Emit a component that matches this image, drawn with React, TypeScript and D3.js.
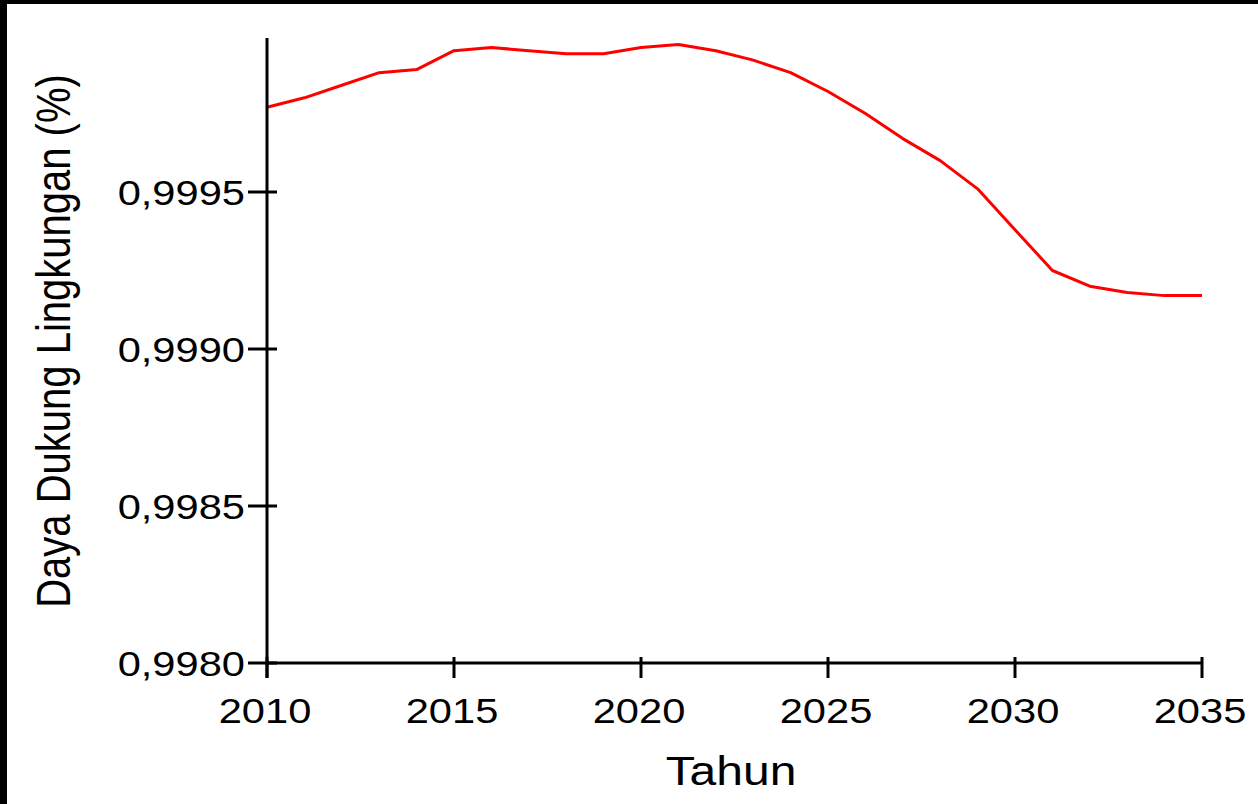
import React from "react";
import * as d3 from "d3";

const years = [2010, 2011, 2012, 2013, 2014, 2015, 2016, 2017, 2018, 2019, 2020, 2021, 2022, 2023, 2024, 2025, 2026, 2027, 2028, 2029, 2030, 2031, 2032, 2033, 2034, 2035];
const values = [0.99977, 0.9998, 0.99984, 0.99988, 0.99989, 0.99995, 0.99996, 0.99995, 0.99994, 0.99994, 0.99996, 0.99997, 0.99995, 0.99992, 0.99988, 0.99982, 0.99975, 0.99967, 0.9996, 0.99951, 0.99938, 0.99925, 0.9992, 0.99918, 0.99917, 0.99917];
const xTicks = [2010, 2015, 2020, 2025, 2030, 2035];
const yTicks = [0.998, 0.9985, 0.999, 0.9995];
const xTitle = "Tahun";
const yTitle = "Daya Dukung Lingkungan (%)";

const W = 1258;
const H = 804;
const FONT = "'Liberation Sans', Arial, Helvetica, sans-serif";

export default function App() {
  const x = d3.scaleLinear().domain([2010, 2035]).range([267, 1202]);
  const y = d3.scaleLinear().domain([0.998, 1.0]).range([663, 35]);
  const line = d3
    .line<number>()
    .x((_, i) => x(years[i]))
    .y((d) => y(d));
  const fmt = (v: number) => v.toFixed(4).replace(".", ",");
  const axisTop = 38;

  return (
    <svg
      width={W}
      height={H}
      style={{ position: "absolute", left: 0, top: 0, background: "#fff" }}
    >
      <rect x={0} y={0} width={W} height={H} fill="#fff" />
      <rect x={0} y={0} width={W} height={4} fill="#000" />
      <rect x={0} y={0} width={7} height={H} fill="#000" />

      <path d={line(values) || ""} fill="none" stroke="#ff0000" strokeWidth={3} strokeLinejoin="round" />

      {/* y axis */}
      <line x1={x(2010)} x2={x(2010)} y1={axisTop} y2={678} stroke="#000" strokeWidth={3} />
      {/* x axis */}
      <line x1={x(2010)} x2={x(2035)} y1={y(0.998)} y2={y(0.998)} stroke="#000" strokeWidth={3} />

      {yTicks.map((t) => (
        <g key={"y" + t}>
          <line x1={248} x2={277} y1={y(t)} y2={y(t)} stroke="#000" strokeWidth={3} />
          <text
            transform={`translate(245,${y(t) + 12.5}) scale(1.19,1)`}
            textAnchor="end"
            fontFamily={FONT}
            fontSize={35}
            fill="#000"
          >
            {fmt(t)}
          </text>
        </g>
      ))}

      {xTicks.map((t) => (
        <g key={"x" + t}>
          <line x1={x(t)} x2={x(t)} y1={657} y2={678} stroke="#000" strokeWidth={3} />
          <text
            transform={`translate(${x(t) - 2},723) scale(1.19,1)`}
            textAnchor="middle"
            fontFamily={FONT}
            fontSize={35}
            fill="#000"
          >
            {t}
          </text>
        </g>
      ))}

      <text
        transform={`translate(731,785) scale(1.2,1)`}
        textAnchor="middle"
        fontFamily={FONT}
        fontSize={40}
        fill="#000"
      >
        {xTitle}
      </text>

      <text
        transform={`translate(70,341) rotate(-90) scale(1,1.2)`}
        textAnchor="middle"
        fontFamily={FONT}
        fontSize={40}
        fill="#000"
      >
        {yTitle}
      </text>
    </svg>
  );
}
